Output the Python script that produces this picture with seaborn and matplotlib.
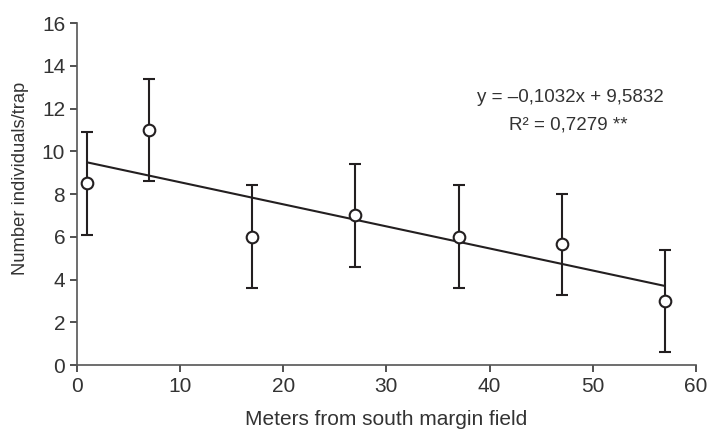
import matplotlib
matplotlib.use("Agg")
import matplotlib.pyplot as plt
import numpy as np
import pandas as pd
import seaborn as sns

# data
meters = [1, 7, 17, 27, 37, 47, 57]
individuals = [8.5, 11.0, 6.0, 7.0, 6.0, 5.65, 3.0]
errors = [2.4, 2.4, 2.4, 2.4, 2.4, 2.35, 2.4]
slope = -0.1032
intercept = 9.5832
equation_text = "y = \u20130,1032x + 9,5832"
r2_text = "R\u00b2 = 0,7279 **"

ink = "#231f20"

sns.set_style("ticks")
plt.rcParams["font.family"] = ["Liberation Sans", "DejaVu Sans"]

df = pd.DataFrame({"meters": meters, "individuals": individuals, "err": errors})
fit = pd.DataFrame({"meters": [meters[0], meters[-1]]})
fit["pred"] = slope * fit["meters"] + intercept

fig = plt.figure(figsize=(7.1, 4.3), dpi=100)
ax = fig.add_axes([0.1085, 0.151, 0.8715, 0.7955])

ax.errorbar(df["meters"], df["individuals"], yerr=df["err"], fmt="none",
            ecolor=ink, elinewidth=1.5, capsize=4.5, capthick=1.5, zorder=2)
sns.lineplot(data=fit, x="meters", y="pred", color=ink, linewidth=1.5, ax=ax, zorder=3)
sns.scatterplot(data=df, x="meters", y="individuals", ax=ax, s=70, marker="o",
                facecolor="white", edgecolor=ink, linewidth=1.5, zorder=4)

ax.set_xlim(0, 60)
ax.set_ylim(0, 16)
ax.set_xticks(range(0, 61, 10))
ax.set_yticks(range(0, 17, 2))
ax.set_xlabel("Meters from south margin field", fontsize=15, color="#333333", labelpad=10.5)
ax.set_ylabel("Number individuals/trap", fontsize=13.2, color="#333333")
ax.yaxis.set_label_coords(-0.078, 0.545)
ax.tick_params(labelsize=15, colors="#333333", width=1.2, length=5)
for side in ["left", "bottom"]:
    ax.spines[side].set_color("#555555")
    ax.spines[side].set_linewidth(1.2)
sns.despine(ax=ax)

ax.text(47.8, 12.5, equation_text, ha="center", va="center", fontsize=13.5, color="#333333")
ax.text(47.6, 11.25, r2_text, ha="center", va="center", fontsize=13.5, color="#333333")

fig.savefig("out.png", dpi=100)
